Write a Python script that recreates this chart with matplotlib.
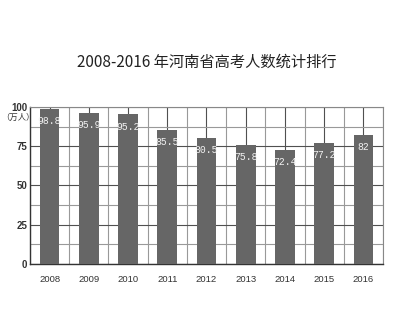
import matplotlib
matplotlib.use("Agg")
import matplotlib.pyplot as plt
import numpy as np

plt.rcParams['font.family'] = ['Noto Sans CJK SC', 'DejaVu Sans']

# data
years = ['2008', '2009', '2010', '2011', '2012', '2013', '2014', '2015', '2016']
values = [98.8, 95.9, 95.2, 85.5, 80.5, 75.8, 72.4, 77.2, 82]
value_labels = ['98.8', '95.9', '95.2', '85.5', '80.5', '75.8', '72.4', '77.2', '82']
y_ticks = [0, 25, 50, 75, 100]

fig = plt.figure(figsize=(4.0, 3.33), dpi=100)
ax = fig.add_axes([0.075, 0.207, 0.8825, 0.472])

x = np.arange(len(years))
ax.bar(x, values, width=0.5, color='#666666', zorder=3)

# value labels inside the bar tops
for xi, v, lab in zip(x, values, value_labels):
    ax.text(xi, v - 4.5, lab, ha='center', va='top', color='#f2f2f2',
            fontsize=7, family=['Liberation Mono', 'DejaVu Sans Mono'], zorder=4)

# axes limits and ticks
ax.set_xlim(-0.5, len(years) - 0.5)
ax.set_ylim(0, 100)
ax.set_xticks(x)
ax.set_xticklabels(years, fontsize=6.8, color='#333333', family='Liberation Sans')
ax.set_xticks(np.arange(-0.5, len(years), 1.0), minor=True)
ax.set_yticks(y_ticks)
ax.set_yticklabels([str(t) for t in y_ticks], fontsize=7, fontweight='bold',
                   color='#333333', family='Liberation Sans')
ax.set_yticks(np.arange(12.5, 100, 25), minor=True)
ax.tick_params(which='both', length=0)
ax.tick_params(axis='x', pad=8)
ax.tick_params(axis='y', pad=2)

# grid
ax.grid(which='major', axis='both', color='#505050', linewidth=0.8, zorder=0)
ax.grid(which='minor', axis='both', color='#999999', linewidth=0.8, zorder=0)
ax.set_axisbelow(True)
for side in ['left', 'bottom']:
    ax.spines[side].set_color('#333333')
    ax.spines[side].set_linewidth(1.0)
for side in ['top', 'right']:
    ax.spines[side].set_color('#888888')
    ax.spines[side].set_linewidth(0.8)

# unit and title
fig.text(1 / 400, 1 - 117 / 333, '（万人）', ha='left', va='center',
         fontsize=6, color='#333333')
fig.text(207 / 400, 1 - 62 / 333, '2008-2016 年河南省高考人数统计排行',
         ha='center', va='center', fontsize=11, color='#222222')

fig.savefig('out.png', dpi=100, facecolor='white')
